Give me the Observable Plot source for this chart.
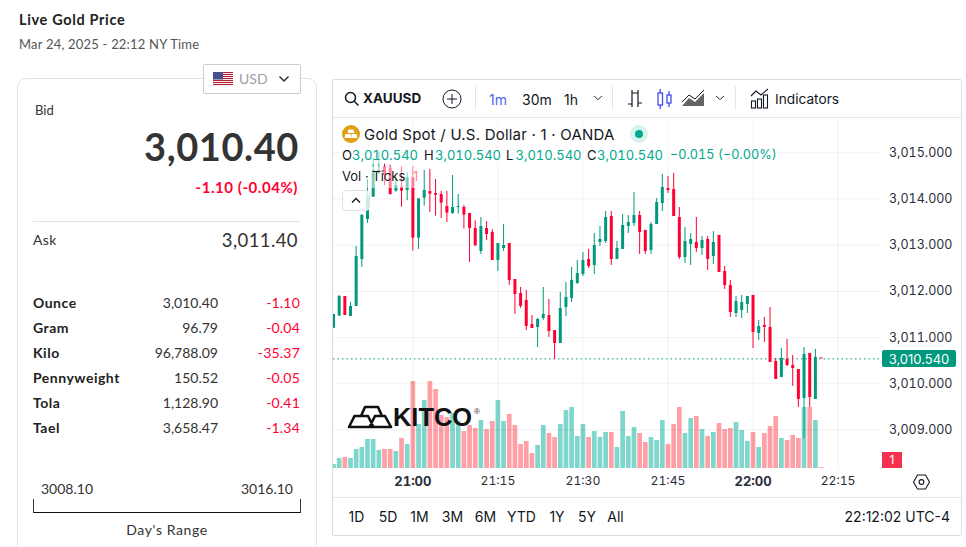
<!DOCTYPE html>
<html><head><meta charset="utf-8">
<script src="https://cdn.jsdelivr.net/npm/d3@7"></script>
<script src="https://cdn.jsdelivr.net/npm/@observablehq/plot@0.6"></script>
<style>
html,body{margin:0;padding:0;background:#fff;overflow:hidden;width:966px;height:547px}
.t{position:absolute;white-space:nowrap;transform:translateY(-50%);line-height:1}
.r{transform:translate(-100%,-50%)}
.c{transform:translate(-50%,-50%)}
.L{font-family:Lato,"Noto Sans",sans-serif;color:#333}
.C{font-family:Inter,Roboto,sans-serif;color:#131722}
.box{position:absolute;box-sizing:border-box}
.layer{position:absolute;left:333px;top:118px}
svg.ic{position:absolute;overflow:visible}
</style></head><body>
<div id="page"></div>
<script>
// ---------- chart data, one minute per entry from 20:46 ----------
const opens  = [3011.205,3011.465,3011.89,3011.457,3011.674,3012.691,3013.557,3014.04,3014.545,3014.69,3014.668,3014.17,3014.257,3014.185,3014.459,3013.153,3014.019,3014.163,3014.12,3014.098,3013.838,3013.687,3013.817,3013.817,3013.687,3013.362,3012.864,3013.362,3013.276,3012.67,3012.929,3013.037,3012.258,3011.955,3011.804,3011.284,3011.219,3011.414,3011.479,3011.154,3010.873,3011.652,3011.847,3012.172,3012.366,3012.691,3012.561,3013.059,3013.081,3013.622,3012.691,3012.908,3013.405,3013.47,3013.644,3013.319,3012.886,3013.449,3013.903,3014.228,3014.206,3013.6,3012.734,3013.016,3013.059,3012.929,3013.124,3012.756,3013.211,3012.431,3012.128,3011.522,3011.587,3011.717,3011.912,3011.089,3011.263,3011.219,3010.483,3010.137,3010.527,3010.397,3010.31,3009.682,3010.657,3009.661,3010.54];
const highs  = [3011.501,3011.912,3011.89,3011.76,3012.973,3013.665,3014.423,3014.877,3015.014,3014.762,3014.726,3014.473,3014.69,3014.567,3014.69,3014.004,3014.618,3014.639,3014.423,3014.163,3014.163,3014.509,3014.098,3013.86,3013.687,3013.528,3013.6,3013.514,3013.333,3013.037,3013.449,3013.037,3012.258,3012.085,3012.02,3011.479,3011.414,3012.085,3011.825,3011.154,3011.977,3012.193,3012.518,3012.67,3012.843,3012.908,3013.254,3013.405,3013.73,3013.73,3013.081,3013.665,3013.644,3014.141,3013.73,3013.319,3013.492,3014.011,3014.531,3014.488,3014.553,3013.817,3013.384,3013.254,3013.6,3013.189,3013.189,3013.297,3013.211,3012.54,3012.237,3011.89,3011.912,3011.89,3011.912,3011.371,3011.436,3011.652,3010.548,3010.765,3010.96,3010.613,3010.31,3010.786,3010.657,3010.743,3010.54];
const lows   = [3011.205,3011.465,3011.479,3011.457,3011.674,3012.518,3013.47,3014.04,3014.545,3014.293,3014.08,3014.149,3013.824,3013.968,3012.872,3012.908,3013.846,3013.708,3013.629,3013.579,3013.492,3013.665,3013.672,3013.348,3012.626,3012.973,3012.799,3013.102,3012.67,3012.431,3012.864,3012.128,3011.501,3011.631,3011.154,3011.198,3010.786,3011.371,3011.003,3010.527,3010.873,3011.457,3011.76,3012.15,3012.323,3012.496,3012.366,3012.973,3013.037,3012.561,3012.691,3012.908,3013.254,3013.405,3012.799,3012.799,3012.799,3013.449,3013.73,3014.12,3013.622,3012.691,3012.605,3012.561,3012.843,3012.778,3012.453,3012.583,3012.41,3012.042,3011.436,3011.436,3011.414,3011.522,3010.765,3010.938,3010.895,3010.462,3010.094,3010.137,3010.375,3009.942,3009.488,3008.81,3009.488,3009.661,3010.54];
const closes = [3011.501,3011.89,3011.479,3011.674,3012.756,3013.644,3014.076,3014.618,3014.618,3014.509,3014.098,3014.293,3014.17,3014.459,3013.153,3014.004,3014.185,3014.105,3014.084,3013.91,3013.694,3013.817,3013.838,3013.651,3013.362,3012.987,3013.405,3013.232,3012.67,3013.037,3012.994,3012.237,3011.934,3011.674,3011.241,3011.198,3011.392,3011.501,3011.133,3010.873,3011.631,3011.869,3012.237,3012.388,3012.67,3012.54,3012.994,3013.124,3013.6,3012.691,3012.929,3013.427,3013.492,3013.644,3013.276,3012.864,3013.449,3013.925,3014.25,3014.185,3013.622,3012.734,3013.081,3013.124,3012.929,3013.102,3012.691,3013.059,3012.41,3012.128,3011.544,3011.782,3011.76,3011.89,3011.111,3011.241,3011.219,3010.462,3010.094,3010.548,3010.397,3010.332,3009.661,3010.635,3009.704,3010.57,3010.54];
const volumes= [4,10,11,10,19,21,29,29,18,19,19,17,30,24,87,44,68,87,79,53,51,55,47,37,43,40,48,39,47,68,47,54,43,24,27,15,23,43,35,31,44,58,61,32,44,31,37,31,36,36,21,57,32,41,35,26,31,28,48,24,44,61,35,50,52,39,32,36,45,39,40,46,38,27,36,21,35,42,52,30,28,33,30,61,61,48,1];
const up     = [1,1,0,1,1,1,1,1,1,0,0,1,0,1,0,1,1,0,0,0,0,1,1,0,0,0,1,0,0,1,1,0,0,0,0,0,1,1,0,0,1,1,1,1,1,0,1,1,1,0,1,1,1,1,0,0,1,1,1,0,0,0,1,1,0,1,0,1,0,0,0,1,1,1,0,1,0,0,0,1,0,0,0,1,0,1,0];
const priceTicks = [3009,3010,3011,3012,3013,3014,3015];
const timeTicks  = ["21:15","21:30","21:45","22:15"];
const boldTicks  = ["21:00","22:00"];
const lastPrice  = 3010.54;
const GREEN="#00997e", RED="#ff0033";

// ---------- side panel data ----------
const units  = ["Ounce","Gram","Kilo","Pennyweight","Tola","Tael"];
const prices = ["3,010.40","96.79","96,788.09","150.52","1,128.90","3,658.47"];
const deltas = ["-1.10","-0.04","-35.37","-0.05","-0.41","-1.34"];
const rangeButtons = ["1D","5D","1M","3M","6M","YTD","1Y","5Y","All"];

const at = h => new Date(`2025-03-24T${h}:00Z`);
const times = opens.map((_,i)=> new Date(Date.UTC(2025,2,24,20,46+i)));
const rows = opens.map((o,i)=>({time:times[i],open:o,high:highs[i],low:lows[i],close:closes[i],vol:volumes[i],col:up[i]?GREEN:RED,vcol:up[i]?"#00ad99":"#ff3f4d"}));

const W=629,H=379,MR=82,MB=29;
const xOpt={type:"utc",axis:null,domain:[new Date(Date.UTC(2025,2,24,20,46)),new Date(Date.UTC(2025,2,24,22,22,29))],label:null};
const fontStyle={fontFamily:"Inter,Roboto,sans-serif",fontSize:"13px",color:"#2a2e39",background:"transparent",overflow:"visible"};

const page=document.getElementById("page");
function add(html){page.insertAdjacentHTML("beforeend",html)}
function text(x,y,s,cls,style=""){add(`<div class="t ${cls}" style="left:${x}px;top:${y}px;${style}">${s}</div>`)}
function box(x,y,w,h,style){add(`<div class="box" style="left:${x}px;top:${y}px;width:${w}px;height:${h}px;${style}"></div>`)}

// ---------- left panel ----------
text(19,20,"Live Gold Price","L","font-weight:700;font-size:14.5px;color:#222;letter-spacing:.65px");
text(19,44,"Mar 24, 2025 - 22:12 NY Time","L","font-size:13px;color:#555;letter-spacing:.2px");
box(17,78,300,500,"border:1px solid #e3e3e3;border-radius:9px;background:#fff");
box(203,64,98,30,"border:1px solid #ccc;border-radius:2px;background:#fff");
add(`<svg class="ic" style="left:213px;top:72px" width="20" height="14"><rect width="20" height="14" fill="#fff"/>${[0,2,4,6,8,10,12].map(y=>`<rect y="${y}" width="20" height="1.1" fill="#b22234"/>`).join("")}<rect width="10" height="7.5" fill="#4a4f8f"/></svg>`);
text(239,79,"USD","L","font-size:14px;color:#9aa0a6");
add(`<svg class="ic" style="left:278px;top:75px" width="12" height="8" fill="none" stroke="#333" stroke-width="1.5"><path d="M1.5 1.5 6 6l4.5-4.5"/></svg>`);
text(35,110,"Bid","L","font-size:13px");
text(299,146,"3,010.40","L r","font-size:38px;font-weight:700;color:#333;letter-spacing:.6px");
text(298,187,"-1.10 (-0.04%)","L r","font-size:15px;font-weight:700;color:#ff0033;letter-spacing:.55px");
box(33,221,267,1,"background:#e2e2e2");
text(33,240,"Ask","L","font-size:14px;letter-spacing:.3px");
text(298,240,"3,011.40","L r","font-size:18.5px;letter-spacing:.4px");
units.forEach((u,i)=>{const y=303+25*i;
  text(33,y,u,"L","font-size:14px;font-weight:700;color:#222;letter-spacing:.5px");
  text(218,y,prices[i],"L r","font-size:14px");
  text(300,y,deltas[i],"L r","font-size:14px;color:#ff0033;letter-spacing:.2px");
});
text(41,489,"3008.10","L","font-size:14px");
text(293,489,"3016.10","L r","font-size:14px");
box(33,512,268,1,"background:#111");
box(33,499,1,14,"background:#333");
box(300,499,1,14,"background:#333");
text(167,530,"Day's Range","L c","font-size:14px;letter-spacing:.6px");

// ---------- right card ----------
box(332,79,630,457,"border:1px solid #dcdcdc;border-radius:2px;background:#fff");
box(333,117,628,1,"background:#e6e6e6");
box(333,497,628,1,"background:#e6e6e6");
[475,612,735].forEach(x=>box(x,86,1,24,"background:#e6e6e6"));
add(`<svg class="ic" style="left:344px;top:91px" width="16" height="16" fill="none" stroke="#131722" stroke-width="1.5"><circle cx="6.5" cy="6.5" r="5"/><path d="M10.2 10.2 14.5 14.5"/></svg>`);
text(363,98.5,"XAUUSD","C","font-size:13.5px;font-weight:700");
add(`<svg class="ic" style="left:442px;top:89px" width="20" height="20" fill="none" stroke="#131722" stroke-width="1"><circle cx="10" cy="10" r="9"/><path d="M10 5v10M5 10h10"/></svg>`);
text(489,99.5,"1m","C","font-size:14px;color:#4d66f0");
text(522,99.5,"30m","C","font-size:14px");
text(564,99.5,"1h","C","font-size:14px");
const chev=(x,y)=>`<svg class="ic" style="left:${x}px;top:${y}px" width="10" height="6" fill="none" stroke="#333" stroke-width="1"><path d="M1 1l4 3.6L9 1"/></svg>`;
add(chev(593,95)); add(chev(715,95));
add(`<svg class="ic" style="left:627px;top:89px" width="16" height="20" fill="none" stroke="#131722" stroke-width="1.2"><path d="M5 1v17M1 15h4M5 4h3M11 1v17M8 4h3M11 14h4"/></svg>`);
add(`<svg class="ic" style="left:656px;top:88px" width="18" height="22" fill="none" stroke="#3d4df0" stroke-width="1.3"><rect x="2" y="5" width="4.5" height="12"/><path d="M4.2 1v4M4.2 17v4"/><rect x="11" y="7" width="4" height="8"/><path d="M13 3v4M13 15v4"/></svg>`);
add(`<svg class="ic" style="left:681px;top:88px" width="24" height="20"><path d="M1 18 8 10 14 14 23 5V18Z" fill="#222" fill-opacity=".7"/><path d="M1 14 8 7 14 11 23 2" fill="none" stroke="#131722" stroke-width="1"/></svg>`);
add(`<svg class="ic" style="left:750px;top:88px" width="20" height="21" fill="none" stroke="#131722" stroke-width="1.1"><path d="M1 8 6 3l5 4 7-6"/><rect x="1.5" y="13" width="4" height="7"/><rect x="7.5" y="11" width="4" height="9"/><rect x="13.5" y="7" width="4" height="13"/></svg>`);
text(775,99.5,"Indicators","C","font-size:13.7px");
rangeButtons.forEach((b,i)=>text([356.5,388,419.5,452.5,485.5,521.5,557,587,615.5][i],517,b,"C c","font-size:14px"));
text(950,517,"22:12:02 UTC-4","C r","font-size:14px");

// ---------- chart layers ----------
const volPlot=Plot.plot({width:W,height:H,marginLeft:0,marginRight:MR,marginTop:0,marginBottom:MB,
  style:fontStyle,x:xOpt,y:{domain:[0,H-MB],range:[H-MB,0],axis:null},
  marks:[Plot.ruleX(rows,{x:"time",y1:0,y2:"vol",stroke:"vcol",strokeWidth:4.7,strokeOpacity:0.5,clip:true})]});
volPlot.classList.add("layer"); volPlot.style.zIndex=1; page.appendChild(volPlot);

const yDomain=[3010-(468-383.3)/46.2,3010+(383.3-118)/46.2];
const gridTimes=[...boldTicks,...timeTicks].map(at);
const candle=Plot.plot({width:W,height:H,marginLeft:0,marginRight:MR,marginTop:0,marginBottom:MB,
  style:fontStyle,x:xOpt,y:{domain:yDomain,label:null,axis:null},
  marks:[
    Plot.ruleY(priceTicks,{stroke:"#000",strokeOpacity:0.055}),
    Plot.ruleX(gridTimes,{stroke:"#000",strokeOpacity:0.055}),
    Plot.axisY(priceTicks,{anchor:"right",tickSize:0,tickPadding:8.5,textAnchor:"start",fontSize:12.5,dy:0,fill:"#2a2e39",label:null,tickFormat:d3.format(",.3f")}),
    Plot.axisX(timeTicks.map(at),{anchor:"bottom",tickSize:0,tickPadding:8,fontSize:12.2,fill:"#2a2e39",label:null,tickFormat:d3.utcFormat("%H:%M")}),
    Plot.axisX(boldTicks.map(at),{anchor:"bottom",tickSize:0,tickPadding:8,fontSize:13,fontWeight:700,fill:"#2a2e39",label:null,tickFormat:d3.utcFormat("%H:%M")}),
    Plot.ruleY([lastPrice],{stroke:GREEN,strokeWidth:1,strokeDasharray:"1.5 3"}),
    Plot.ruleX(rows,{x:"time",y1:"low",y2:"high",stroke:"col",strokeWidth:1,clip:true}),
    Plot.ruleX(rows,{x:"time",y1:"open",y2:d=>Math.abs(d.close-d.open)<0.02?d.open+0.02:d.close,stroke:"col",strokeWidth:3,clip:true})
  ]});
candle.classList.add("layer"); candle.style.zIndex=2; page.appendChild(candle);

// ---------- overlays above the candles ----------
function over(html){const w=document.createElement("div");w.style.cssText="position:absolute;left:0;top:0;z-index:4";w.innerHTML=html;page.appendChild(w)}
const tx=(x,y,s,st="")=>`<div class="t C" style="left:${x}px;top:${y}px;${st}">${s}</div>`;
const teal="#00a88c";
const num=`font-size:13px;font-variant-numeric:tabular-nums;color:${teal}`;
over(`
<div class="box" style="left:341px;top:125px;width:330px;height:20px;background:rgba(255,255,255,.5)"></div>
<div class="box" style="left:341px;top:147px;width:436px;height:17px;background:rgba(255,255,255,.5)"></div>
<div class="box" style="left:341px;top:167px;width:74px;height:21px;background:rgba(255,255,255,.5)"></div>
<svg class="ic" style="left:342px;top:125px" width="18" height="18"><circle cx="9" cy="9" r="9" fill="#e0a014"/><path d="M6.5 4.5h5l1 3.5h-7zM3.5 9h5l1 4h-7zM9.5 9h5l1 4h-6z" fill="#fff"/></svg>
${tx(364,134,"Gold Spot / U.S. Dollar · 1 · OANDA","font-size:15px;letter-spacing:.22px")}
<svg class="ic" style="left:630px;top:125px" width="18" height="18"><circle cx="9" cy="9" r="9" fill="#d8f3ee"/><circle cx="9" cy="9" r="4" fill="#00a88c"/></svg>
${tx(342,155,"O","font-size:13px")}${tx(352,155,"3,010.540",num)}
${tx(424,155,"H","font-size:13px")}${tx(435,155,"3,010.540",num)}
${tx(506,155,"L","font-size:13px")}${tx(515.5,155,"3,010.540",num)}
${tx(587,155,"C","font-size:13px")}${tx(597,155,"3,010.540",num)}
${tx(670,155,"−0.015 (−0.00%)",num+";font-size:12.7px")}
${tx(342,176,"Vol · Ticks","font-size:13px")}${tx(413,176,"1","font-size:13px;color:#ff8a95")}
<div class="box" style="left:342px;top:190px;width:28px;height:21px;border:1px solid #e2e2e2;border-radius:4px;background:rgba(255,255,255,.8)"></div>
<svg class="ic" style="left:351px;top:197px" width="10" height="7" fill="none" stroke="#131722" stroke-width="1.4"><path d="M1 5.5 5 1.5 9 5.5"/></svg>
<svg class="ic" style="left:347px;top:405px" width="46" height="24" fill="none" stroke="#111" stroke-width="2.6" stroke-linejoin="round"><path d="M14 11 18 2H31L35 11M2 22 7.5 11H21L26.5 22ZM22.5 22 28 11H38L44 22Z"/></svg>
<svg class="ic" style="left:393px;top:403px" width="92" height="28"><text x="0" y="23" font-family="Liberation Sans" font-weight="700" font-size="25" fill="#111" textLength="79" lengthAdjust="spacingAndGlyphs">KITCO</text><text x="81" y="11" font-family="Liberation Sans" font-size="8" fill="#333">®</text></svg>
<div class="box" style="left:882px;top:350px;width:74px;height:17px;background:${GREEN};border-radius:2px"></div>
${tx(919,358.5,d3.format(",.3f")(lastPrice),"font-size:13px;color:#fff;transform:translate(-50%,-50%)")}
<div class="box" style="left:882px;top:452px;width:20px;height:16px;background:#f5304f"></div>
${tx(892,460,"1","font-size:12px;color:#fff;transform:translate(-50%,-50%)")}
<svg class="ic" style="left:913px;top:474px" width="17" height="16" fill="none" stroke="#131722" stroke-width="1.1"><path d="M4.5 1H12.5L16.5 8 12.5 15H4.5L.5 8Z"/><circle cx="8.5" cy="8" r="2.4"/></svg>
`);
</script>
</body></html>
